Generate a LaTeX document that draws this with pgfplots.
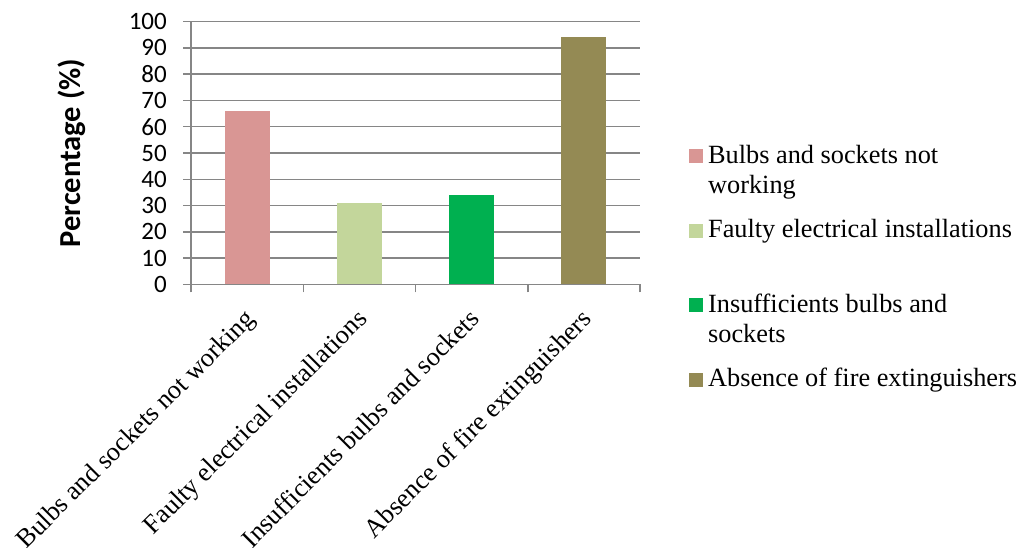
\documentclass[border=0pt]{standalone}
\usepackage{fontspec}
\setmainfont{Liberation Serif}
\newfontfamily\carlito{Carlito}
\usepackage{pgfplots}
\pgfplotsset{compat=1.18}

\definecolor{barPink}{HTML}{D99694}
\definecolor{barLight}{HTML}{C3D69B}
\definecolor{barGreen}{HTML}{00B050}
\definecolor{barOlive}{HTML}{948A54}
\definecolor{gridGray}{HTML}{868686}

\begin{document}
\begin{tikzpicture}[x=1pt,y=1pt]
\useasboundingbox (0,0) rectangle (1024,-547);
\begin{axis}[
  at={(191pt,-284.3pt)}, anchor=south west,
  scale only axis, width=449pt, height=262.6pt,
  xmin=0.5, xmax=4.5, ymin=0, ymax=100,
  axis x line*=bottom, axis y line*=left,
  ytick={0,10,...,100},
  xtick={1,2,3,4},
  xticklabels={Bulbs and sockets not working,
               Faulty electrical installations,
               Insufficients bulbs and sockets,
               Absence of fire extinguishers},
  minor xtick={0.5,1.5,2.5,3.5,4.5},
  major x tick style={draw=none},
  tick align=outside,
  major tick length=8pt, minor tick length=8pt,
  ymajorgrids,
  grid style={gridGray, line width=1.5pt},
  axis line style={gridGray, line width=1.5pt},
  tick style={gridGray, line width=1.5pt},
  /pgf/number format/assume math mode=true,
  yticklabel style={font=\carlito\fontsize{25}{30}\selectfont, anchor=east, inner sep=0pt, xshift=-16pt},
  xticklabel style={font=\fontsize{26.3}{30.5}\selectfont, xshift=-4pt, yshift=-15pt,
                    rotate=45, anchor=north east, inner sep=0pt},
  every axis y label/.style={at={(axis description cs:-0.265,0.5)}, rotate=90, anchor=center},
  ylabel={Percentage (\%)},
  ylabel style={font=\carlito\bfseries\fontsize{30.5}{36}\selectfont},
  legend style={at={(axis description cs:1.109,0.538)}, anchor=north west,
    draw=none, fill=none, inner sep=0pt, row sep=0pt, column sep=5pt,
    font=\fontsize{26.3}{30.5}\selectfont,
    cells={anchor=base west},
    nodes={inner sep=0pt, text height=20pt, text depth=54.5pt}},
]
\addplot[ybar, bar width=45pt, bar shift=0pt, fill=barPink, draw=none,
  legend image code/.code={\fill[barPink] (0pt,0pt) rectangle (14pt,14pt);}]
  coordinates {(1,66)};
\addlegendentry{\vtop{\hbox{Bulbs and sockets not}\hbox{working}}}
\addplot[ybar, bar width=45pt, bar shift=0pt, fill=barLight, draw=none,
  legend image code/.code={\fill[barLight] (0pt,0pt) rectangle (14pt,14pt);}]
  coordinates {(2,31)};
\addlegendentry{Faulty electrical installations}
\addplot[ybar, bar width=45pt, bar shift=0pt, fill=barGreen, draw=none,
  legend image code/.code={\fill[barGreen] (0pt,0pt) rectangle (14pt,14pt);}]
  coordinates {(3,34)};
\addlegendentry{\vtop{\hbox{Insufficients bulbs and}\hbox{sockets}}}
\addplot[ybar, bar width=45pt, bar shift=0pt, fill=barOlive, draw=none,
  legend image code/.code={\fill[barOlive] (0pt,0pt) rectangle (14pt,14pt);}]
  coordinates {(4,94)};
\addlegendentry{Absence of fire extinguishers}
\end{axis}
\end{tikzpicture}
\end{document}
